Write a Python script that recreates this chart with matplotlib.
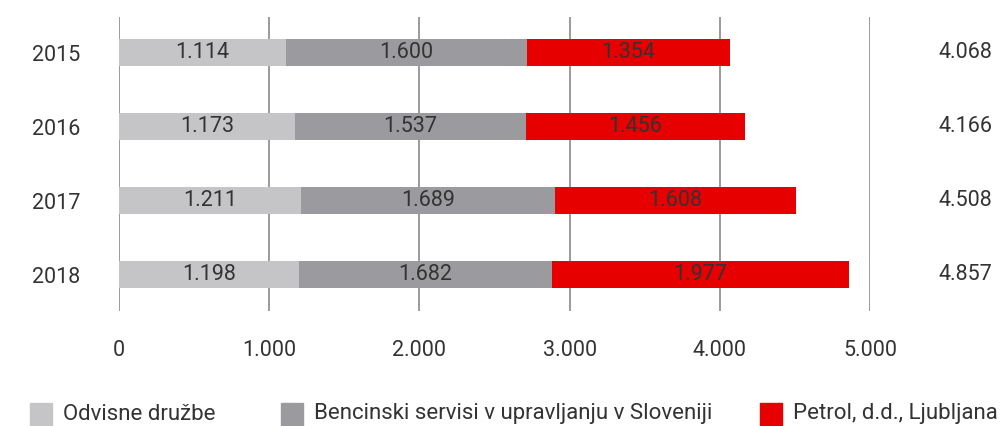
import matplotlib

matplotlib.use("Agg")
import matplotlib.pyplot as plt
from matplotlib.patches import Rectangle

years = ["2015", "2016", "2017", "2018"]
odvisne = [1114, 1173, 1211, 1198]
bencinski = [1600, 1537, 1689, 1682]
petrol = [1354, 1456, 1608, 1977]
totals = [4068, 4166, 4508, 4857]
xticks = [0, 1000, 2000, 3000, 4000, 5000]

series_names = ["Odvisne družbe", "Bencinski servisi v upravljanju v Sloveniji",
                "Petrol, d.d., Ljubljana"]
colors = ["#c5c5c8", "#9b9a9e", "#e60000"]
text_color = "#333333"


def fmt(v):
    return f"{v:,}".replace(",", ".")


plt.rcParams["font.family"] = ["Roboto", "DejaVu Sans"]

W, H = 1004, 426
fig = plt.figure(figsize=(W / 100, H / 100), dpi=100)
# axes: x=0 at px 119, x=5000 at px 870; top px 17, bottom px 311
ax = fig.add_axes([119 / W, 1 - 311 / H, (870 - 119) / W, (311 - 17) / H])

fs = 15.5
pos = list(range(len(years)))
left = [0] * len(years)
for vals, name, col in zip([odvisne, bencinski, petrol], series_names, colors):
    ax.barh(pos, vals, left=left, height=0.365, color=col, zorder=2, label=name)
    for p, l, v in zip(pos, left, vals):
        ax.text(l + v / 2, p, fmt(v), ha="center", va="center",
                fontsize=fs, color=text_color, zorder=3)
    left = [a + b for a, b in zip(left, vals)]

for p, t in zip(pos, totals):
    ax.text(5815, p, fmt(t), ha="right", va="center", fontsize=fs,
            color=text_color, clip_on=False)

ax.set_xlim(0, 5000)
ax.set_ylim(3.49, -0.48)
ax.set_xticks(xticks)
ax.set_xticklabels([fmt(x) for x in xticks])
ax.set_yticks(pos)
ax.set_yticklabels(years)
ax.tick_params(length=0, labelsize=fs, labelcolor=text_color)
ax.tick_params(axis="x", pad=21)
ax.tick_params(axis="y", pad=28)
for s in ax.spines.values():
    s.set_visible(False)
ax.grid(axis="x", color="#8a8a8a", linewidth=1.2, zorder=1)
ax.set_axisbelow(True)

# legend drawn at the bottom edge
legend_x = [30, 281, 760]
for lx, name, col in zip(legend_x, series_names, colors):
    fig.add_artist(Rectangle((lx / W, 0), 22 / W, 23 / H, transform=fig.transFigure,
                             color=col, clip_on=False))
    fig.text((lx + 33) / W, 1 - 414 / H, name, ha="left", va="center",
             fontsize=16, color=text_color)

fig.savefig("out.png", dpi=100)
